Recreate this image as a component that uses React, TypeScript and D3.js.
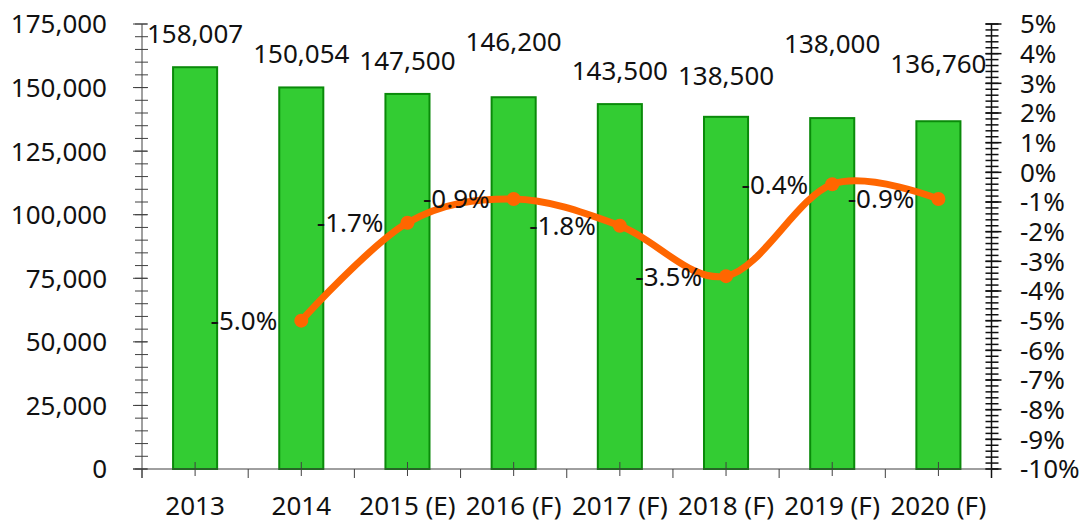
import React from "react";
import * as d3 from "d3";

const categories = ["2013", "2014", "2015 (E)", "2016 (F)", "2017 (F)", "2018 (F)", "2019 (F)", "2020 (F)"];
const volumes = [158007, 150054, 147500, 146200, 143500, 138500, 138000, 136760];
const growth: (number | null)[] = [null, -5.0, -1.7, -0.9, -1.8, -3.5, -0.4, -0.9];
const leftTicks = [0, 25000, 50000, 75000, 100000, 125000, 150000, 175000];
const rightTicks = [-10, -9, -8, -7, -6, -5, -4, -3, -2, -1, 0, 1, 2, 3, 4, 5];
// layout: extra lift of each bar value label above its bar top (px)
const valueLabelLift = [24, 24, 24, 46, 24, 32, 65, 48];

const W = 1090;
const H = 522;
const left = 142;
const right = 991.5;
const top = 24;
const bottom = 469;
const FONT = "'Noto Sans', 'Open Sans', sans-serif";
const FS = 26;

const hyphen = (s: string) => s.replace(/\u2212/g, "-");

export default function App() {
  const x = d3.scaleBand<string>().domain(categories).range([left, right]).padding(0);
  const yL = d3.scaleLinear().domain([0, 175000]).range([bottom, top]);
  const yR = d3.scaleLinear().domain([-10, 5]).range([bottom, top]);
  const step = x.step();
  const barW = step * 0.415;
  const cx = (c: string) => (x(c) as number) + step / 2;
  const fmtN = d3.format(",");
  const fmtP = (v: number) => hyphen(d3.format(".1f")(v)) + "%";

  const leftMinor = d3.range(0, 175001, 5000);
  const rightMinor = d3.range(-10, 5.001, 0.2);

  const pts = categories
    .map((c, i) => ({ c, v: growth[i] }))
    .filter((d) => d.v !== null) as { c: string; v: number }[];
  const line = d3
    .line<{ c: string; v: number }>()
    .x((d) => cx(d.c))
    .y((d) => yR(d.v))
    .curve(d3.curveCatmullRom.alpha(0));

  const axisColor = "#404040";

  return (
    <svg
      width={W}
      height={H}
      style={{ position: "absolute", left: 0, top: 0, background: "#fff" }}
      fontFamily={FONT}
    >
      {/* bars */}
      {categories.map((c, i) => (
        <rect
          key={c}
          x={cx(c) - barW / 2}
          y={yL(volumes[i])}
          width={barW}
          height={bottom - yL(volumes[i])}
          fill="#33cc33"
          stroke="#0a8a0a"
          strokeWidth={2}
        />
      ))}
      {/* bar labels */}
      {categories.map((c, i) => (
        <text
          key={"l" + c}
          x={cx(c)}
          y={yL(volumes[i]) - valueLabelLift[i]}
          textAnchor="middle"
          fontSize={FS}
          fill="#111"
        >
          {fmtN(volumes[i])}
        </text>
      ))}

      {/* left axis */}
      <line x1={left} x2={left} y1={top} y2={bottom + 9} stroke={axisColor} strokeWidth={1} />
      {leftMinor.map((t) => (
        <line key={"lm" + t} x1={left - 7} x2={left + 6} y1={yL(t)} y2={yL(t)} stroke={axisColor} strokeWidth={1} />
      ))}
      {leftTicks.map((t) => (
        <g key={"lt" + t}>
          <line x1={left - 9} x2={left + 5} y1={yL(t)} y2={yL(t)} stroke={axisColor} strokeWidth={1} />
          <text x={107} y={yL(t)} dy="0.36em" textAnchor="end" fontSize={FS} fill="#111">
            {fmtN(t)}
          </text>
        </g>
      ))}

      {/* right axis */}
      <line x1={right} x2={right} y1={top} y2={bottom + 9} stroke="#111" strokeWidth={1.5} />
      {rightMinor.map((t, i) => (
        <line key={"rm" + i} x1={right - 6} x2={right + 7} y1={yR(t)} y2={yR(t)} stroke="#111" strokeWidth={1.5} />
      ))}
      {rightTicks.map((t) => (
        <g key={"rt" + t}>
          <line x1={right - 6} x2={right + 10} y1={yR(t)} y2={yR(t)} stroke="#111" strokeWidth={1.5} />
          <text x={1020} y={yR(t)} dy="0.36em" textAnchor="start" fontSize={FS} fill="#111">
            {t + "%"}
          </text>
        </g>
      ))}

      {/* bottom axis */}
      <line x1={left - 9} x2={right} y1={bottom} y2={bottom} stroke={axisColor} strokeWidth={1} />
      {categories.map((c) => (
        <g key={"xt" + c}>
          <line x1={x(c) as number} x2={x(c) as number} y1={bottom} y2={bottom + 9} stroke={axisColor} strokeWidth={1} />
          <line x1={cx(c)} x2={cx(c)} y1={bottom - 7} y2={bottom + 7} stroke={axisColor} strokeWidth={1} />
          <text x={cx(c)} y={515} textAnchor="middle" fontSize={FS} fill="#111">
            {c}
          </text>
        </g>
      ))}

      {/* growth line */}
      <path d={line(pts) || ""} fill="none" stroke="#ff6600" strokeWidth={7} strokeLinecap="round" />
      {pts.map((d) => (
        <circle key={"p" + d.c} cx={cx(d.c)} cy={yR(d.v)} r={7} fill="#ff6600" />
      ))}
      {pts.map((d) => (
        <text
          key={"pl" + d.c}
          x={cx(d.c) - 24}
          y={yR(d.v)}
          dy="0.36em"
          textAnchor="end"
          fontSize={FS}
          fill="#111"
        >
          {fmtP(d.v)}
        </text>
      ))}
    </svg>
  );
}
